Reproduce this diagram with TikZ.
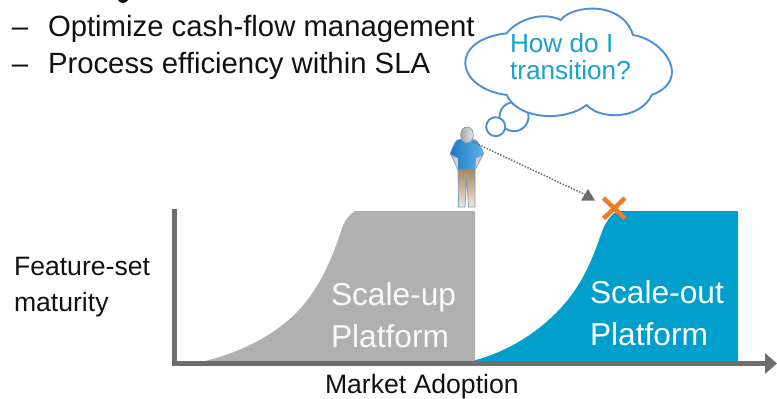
\documentclass[tikz,border=0pt]{standalone}
\usepackage{fontspec}
\setmainfont{Liberation Sans}
\definecolor{axisgray}{HTML}{6E6E6E}
\definecolor{upgray}{HTML}{B0B0B0}
\definecolor{outblue}{HTML}{009FCC}
\definecolor{cloudline}{HTML}{4A90D9}
\definecolor{cloudtext}{HTML}{18A2CE}
\definecolor{xorange}{HTML}{F47B20}
\definecolor{inkblack}{HTML}{111111}
\definecolor{figline}{HTML}{7F9CC0}
\definecolor{shirtdark}{HTML}{1C78C0}
\definecolor{shirtlight}{HTML}{5FB4EA}
\definecolor{pantstop}{HTML}{A5845A}
\definecolor{pantsbottom}{HTML}{EDE6DA}
\tikzset{
  x=1pt,y=-1pt,
  body/.style={anchor=base west,inner sep=0pt,outer sep=0pt,text=inkblack,font=\fontsize{29.3}{29.3}\selectfont},
  axislabel/.style={anchor=base west,inner sep=0pt,outer sep=0pt,text=inkblack,font=\fontsize{26.6}{26.6}\selectfont},
  thought/.style={anchor=base west,inner sep=0pt,outer sep=0pt,text=cloudtext,font=\fontsize{26.2}{26.2}\selectfont},
  platform/.style={anchor=base west,inner sep=0pt,outer sep=0pt,font=\fontsize{31.7}{31.7}\selectfont},
  cloudstroke/.style={draw=cloudline,line width=1.9pt,fill=white},
  axisline/.style={fill=axisgray},
  figpart/.style={draw=figline,line width=0.8pt},
}
\begin{document}
\begin{tikzpicture}
\useasboundingbox (0,0) rectangle (777,399);
% fragment of the cropped first line
\fill[inkblack] (118,0) .. controls (120,4) and (126,4) .. (128,0) -- cycle;
% bullets
\node[body] (d1) at (12,36) {–};
\node[body] (t1) at (48,36) {Optimize cash-flow management};
\node[body] (d2) at (12,73) {–};
\node[body] (t2) at (48,73) {Process efficiency within SLA};
% thought cloud
\draw[cloudstroke] (514,116.7) circle (14.5);
\draw[cloudstroke] (506.7,33.3)
  .. controls (515,22) and (540,10) .. (560.7,20)
  .. controls (572,5) and (622,0) .. (633,35)
  .. controls (665,40) and (692,80) .. (651.7,95)
  .. controls (640,120) and (600,120) .. (586.7,105)
  .. controls (565,122) and (518,120) .. (506.7,95)
  .. controls (455,88) and (448,40) .. cycle;
\draw[cloudstroke] (495.7,126.7) circle (9.5);
\node[thought] (q1) at (510,52) {How do I};
\node[thought] (q2) at (510,79) {transition?};
% platforms
\fill[outblue] (472,361) .. controls (517,350) and (555,320) .. (575,290)
  .. controls (590,268) and (597,245) .. (603,229)
  .. controls (607,220) and (612,214) .. (617,211) -- (738,211) -- (738,361) -- cycle;
\fill[upgray] (205,361) .. controls (250,350) and (285,328) .. (305,303)
  .. controls (325,278) and (335,250) .. (342,228)
  .. controls (345,220) and (350,214) .. (355,211) -- (475,211) -- (475,361) -- cycle;
\node[platform,text=white!94!upgray] (up1) at (331,305) {Scale-up};
\node[platform,text=white!94!upgray] (up2) at (331,347) {Platform};
\node[platform,text=white] (ou1) at (590,303) {Scale-out};
\node[platform,text=white] (ou2) at (590,345) {Platform};
% axes
\fill[axisline] (172,209) rectangle (177,366);
\fill[axisline] (172,361) rectangle (766,366);
\fill[axisline] (765,353) -- (777,363.5) -- (765,374) -- cycle;
\node[axislabel] (ylab1) at (14,275) {Feature-set};
\node[axislabel] (ylab2) at (14,311) {maturity};
\node[axislabel] (xlab) at (325,393) {Market Adoption};
% person
\path[draw=figline,line width=0.6pt,left color=gray!55,right color=gray!25] (451,155) -- (458,170) -- (459,158) -- cycle;
\path[draw=figline,line width=0.6pt,left color=gray!25,right color=gray!55] (483,155) -- (475,170) -- (474,158) -- cycle;
\path[figpart,top color=pantstop,bottom color=pantsbottom]
  (458,168) -- (475,168) -- (475,207) -- (468.5,207) -- (466.5,178) -- (465,207) -- (458.5,207) -- cycle;
\path[draw=figline,line width=0.4pt,left color=shirtdark,right color=shirtlight]
  (457,140) -- (466.5,138) -- (476,140) .. controls (479,143) and (482,149) .. (484,154)
  -- (476,158) -- (475,169) -- (458,169) -- (458,158) -- (450,154)
  .. controls (452,149) and (454,143) .. (457,140) -- cycle;
\path[figpart,left color=gray!70,right color=gray!20] (467,135) ellipse (6.3 and 8);
% gaze and mark
\coordinate (gaze) at (473,142);
\coordinate (target) at (586,195);
\draw[axisgray,line width=1.5pt,dash pattern=on 1.5pt off 1.5pt] (gaze) -- (target);
\fill[axisgray] (581,200.5) -- (588,189) -- (595,200.5) -- cycle;
\draw[xorange,line width=4.5pt] (603.5,198) -- (625,218.5) (625,198) -- (603.5,218.5);
\end{tikzpicture}
\end{document}
